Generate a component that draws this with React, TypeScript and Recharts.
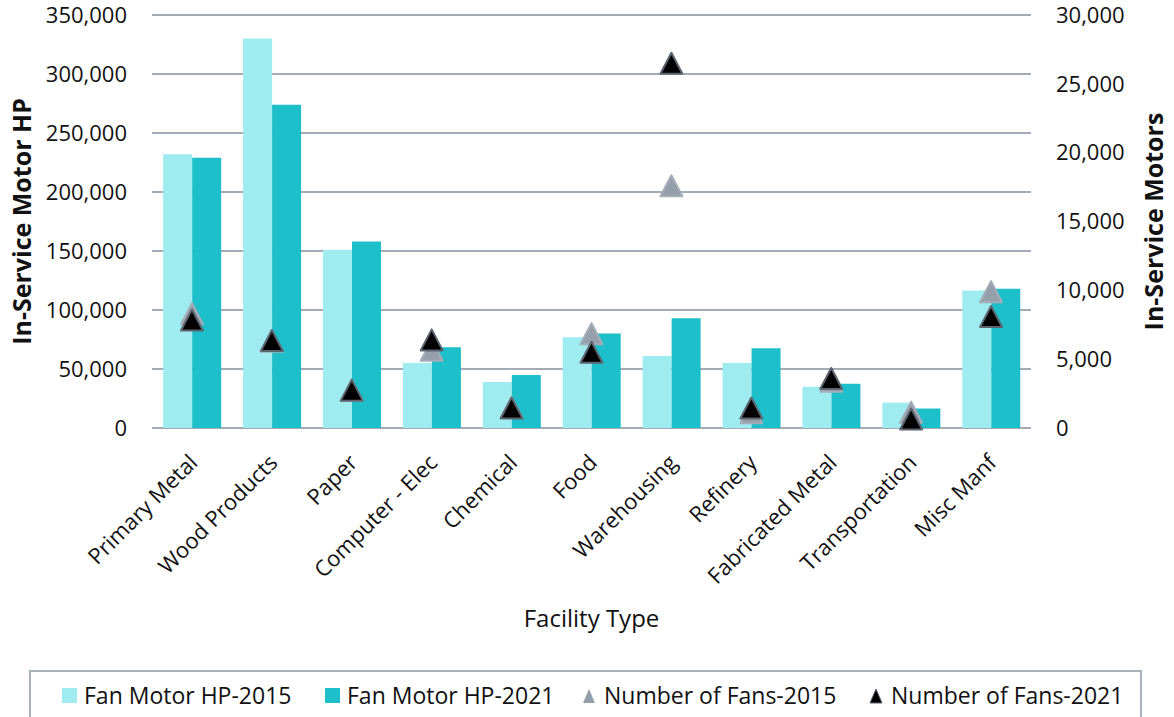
import React from "react";
import {
  ComposedChart,
  Bar,
  Line,
  XAxis,
  YAxis,
  CartesianGrid,
} from "recharts";

const categories = [
  "Primary Metal",
  "Wood Products",
  "Paper",
  "Computer - Elec",
  "Chemical",
  "Food",
  "Warehousing",
  "Refinery",
  "Fabricated Metal",
  "Transportation",
  "Misc Manf",
];
const hp2015 = [232000, 330000, 151000, 55000, 39000, 77000, 61000, 55000, 35000, 21500, 116500];
const hp2021 = [229000, 274000, 158000, 68500, 45000, 80000, 93000, 67500, 37500, 16500, 118000];
const fans2015 = [8300, 6300, 2750, 5650, 1500, 6850, 17600, 1100, 3400, 1150, 9900];
const fans2021 = [7850, 6350, 2750, 6400, 1450, 5500, 26500, 1450, 3600, 650, 8100];
const leftTicks = [0, 50000, 100000, 150000, 200000, 250000, 300000, 350000];
const rightTicks = [0, 5000, 10000, 15000, 20000, 25000, 30000];

const FONT = "'Open Sans', 'Noto Sans', sans-serif";
const LIGHT = "#9EEBF0";
const TEAL = "#1DBFCA";
const GRAY_TRI = "#949FAA";
const GRID = "#A3ABB5";

const chartData = categories.map((name, i) => ({
  name,
  hp2015: hp2015[i],
  hp2021: hp2021[i],
  fans2015: fans2015[i],
  fans2021: fans2021[i],
}));

const fmt = (v: number) => v.toLocaleString("en-US");

function triangle(fill: string, stroke: string) {
  return (p: any) => {
    const { cx, cy, index } = p;
    if (cx == null || cy == null) return <g key={`t-${index}`} />;
    const w = 11;
    const h = 10.5;
    return (
      <polygon
        key={`t-${index}`}
        points={`${cx},${cy - h} ${cx + w},${cy + h} ${cx - w},${cy + h}`}
        fill={fill}
        stroke={stroke}
        strokeWidth={2}
        strokeLinejoin="round"
      />
    );
  };
}

const CategoryTick = (props: any) => {
  const { x, y, payload } = props;
  const tx = x + 7;
  const ty = y + 36;
  return (
    <text
      x={tx}
      y={ty}
      transform={`rotate(-45, ${tx}, ${ty})`}
      textAnchor="end"
      fontSize={22}
      fontFamily={FONT}
      fill="#111"
    >
      {payload.value}
    </text>
  );
};

const legendItems = [
  { label: "Fan Motor HP-2015", kind: "square", color: LIGHT, left: 62 },
  { label: "Fan Motor HP-2021", kind: "square", color: TEAL, left: 325 },
  { label: "Number of Fans-2015", kind: "tri", color: GRAY_TRI, left: 582 },
  { label: "Number of Fans-2021", kind: "tri", color: "#000", left: 869 },
];

function ChartLegend() {
  return (
    <div
      style={{
        position: "absolute",
        left: 29,
        top: 670,
        width: 1113,
        height: 60,
        border: "2px solid #A9B1BB",
        boxSizing: "border-box",
        fontFamily: FONT,
        fontSize: 23,
        color: "#111",
      }}
    >
      {legendItems.map((it) => (
        <div
          key={it.label}
          style={{
            position: "absolute",
            left: it.left - 31,
            top: 7,
            display: "flex",
            alignItems: "center",
            whiteSpace: "nowrap",
          }}
        >
          <svg width={20} height={20} style={{ marginRight: 2 }}>
            {it.kind === "square" ? (
              <rect x={0} y={3} width={15} height={15} fill={it.color} />
            ) : (
              <polygon
                points="7,4 13,18 1,18"
                fill={it.color}
                stroke={it.color === "#000" ? "#5C6470" : "none"}
                strokeWidth={1}
              />
            )}
          </svg>
          <span>{it.label}</span>
        </div>
      ))}
    </div>
  );
}

export default function App() {
  return (
    <div
      style={{
        position: "absolute",
        left: 0,
        top: 0,
        width: 1174,
        height: 717,
        background: "#fff",
        overflow: "hidden",
      }}
    >
      <ComposedChart
        width={1174}
        height={717}
        data={chartData}
        margin={{ top: 15, right: 0, bottom: 0, left: 0 }}
        barCategoryGap="14%"
        barGap={0}
      >
        <CartesianGrid
          yAxisId="left"
          vertical={false}
          stroke={GRID}
          strokeWidth={2}
        />
        <XAxis
          dataKey="name"
          height={289}
          interval={0}
          axisLine={false}
          tickLine={false}
          tickSize={0}
          tickMargin={0}
          tick={<CategoryTick />}
          label={{
            value: "Facility Type",
            position: "insideTop",
            offset: 182,
            fontSize: 24,
            fontFamily: FONT,
            fill: "#111",
          }}
        />
        <YAxis
          yAxisId="left"
          orientation="left"
          width={152}
          domain={[0, 350000]}
          ticks={leftTicks}
          tickFormatter={fmt}
          axisLine={false}
          tickLine={false}
          tickSize={0}
          tickMargin={25}
          tick={{ fontSize: 22, fontFamily: FONT, fill: "#111" }}
          label={{
            value: "In-Service Motor HP",
            angle: -90,
            position: "insideLeft",
            offset: 22,
            fontSize: 25,
            fontWeight: 700,
            fontFamily: FONT,
            fill: "#111",
            style: { textAnchor: "middle" },
          }}
        />
        <YAxis
          yAxisId="right"
          orientation="right"
          width={143}
          domain={[0, 30000]}
          ticks={rightTicks}
          tickFormatter={fmt}
          axisLine={false}
          tickLine={false}
          tickSize={0}
          tickMargin={25}
          tick={{ fontSize: 22, fontFamily: FONT, fill: "#111" }}
          label={{
            value: "In-Service Motors",
            angle: -90,
            position: "insideRight",
            offset: 20,
            fontSize: 25,
            fontWeight: 700,
            fontFamily: FONT,
            fill: "#111",
            style: { textAnchor: "middle" },
          }}
        />
        <Bar yAxisId="left" dataKey="hp2015" name="Fan Motor HP-2015" fill={LIGHT} isAnimationActive={false} />
        <Bar yAxisId="left" dataKey="hp2021" name="Fan Motor HP-2021" fill={TEAL} isAnimationActive={false} />
        <Line
          yAxisId="right"
          dataKey="fans2015"
          name="Number of Fans-2015"
          stroke="none"
          strokeWidth={0}
          dot={triangle(GRAY_TRI, "#A4ADB7")}
          activeDot={false}
          isAnimationActive={false}
        />
        <Line
          yAxisId="right"
          dataKey="fans2021"
          name="Number of Fans-2021"
          stroke="none"
          strokeWidth={0}
          dot={triangle("#000", "#5C6470")}
          activeDot={false}
          isAnimationActive={false}
        />
      </ComposedChart>
      <ChartLegend />
    </div>
  );
}
